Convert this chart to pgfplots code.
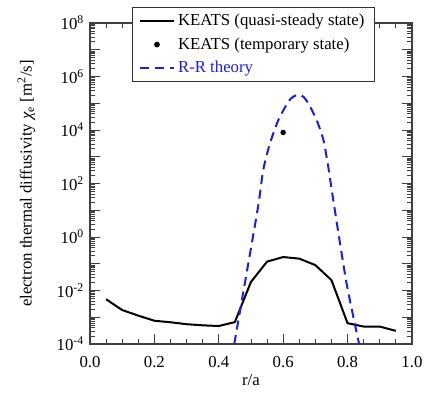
\documentclass[border=0pt]{standalone}
\usepackage{fontspec}
\setmainfont{Liberation Serif}
\usepackage{pgfplots}
\pgfplotsset{compat=1.18}
\definecolor{rrblue}{RGB}{30,30,225}
\pgfplotsset{
  mylegline/.style={legend image code/.code={\draw[##1] (0pt,0pt) -- (20pt,0pt);}},
  mylegdot/.style={legend image code/.code={\draw[##1] plot coordinates {(10pt,0pt)};}},
}
\begin{document}
\begin{tikzpicture}
\begin{axis}[name=ax,
  width=192pt, height=191.5pt, scale only axis,
  xmin=0, xmax=1, ymode=log, ymin=1e-4, ymax=1e8,
  xtick={0,0.2,0.4,0.6,0.8,1.0},
  xticklabels={0.0,0.2,0.4,0.6,0.8,1.0},
  minor xtick={0.05,0.1,0.15,0.25,0.3,0.35,0.45,0.5,0.55,0.65,0.7,0.75,0.85,0.9,0.95},
  ytick={1e-4,1e-3,1e-2,1e-1,1,1e1,1e2,1e3,1e4,1e5,1e6,1e7,1e8},
  yticklabels={{10\textsuperscript{-4}},{},{10\textsuperscript{-2}},{},{10\textsuperscript{0}},{},{10\textsuperscript{2}},{},{10\textsuperscript{4}},{},{10\textsuperscript{6}},{},{10\textsuperscript{8}}},
  minor ytick={
   2e-4,3e-4,4e-4,5e-4,6e-4,7e-4,8e-4,9e-4,
   2e-3,3e-3,4e-3,5e-3,6e-3,7e-3,8e-3,9e-3,
   2e-2,3e-2,4e-2,5e-2,6e-2,7e-2,8e-2,9e-2,
   2e-1,3e-1,4e-1,5e-1,6e-1,7e-1,8e-1,9e-1,
   2,3,4,5,6,7,8,9,
   2e1,3e1,4e1,5e1,6e1,7e1,8e1,9e1,
   2e2,3e2,4e2,5e2,6e2,7e2,8e2,9e2,
   2e3,3e3,4e3,5e3,6e3,7e3,8e3,9e3,
   2e4,3e4,4e4,5e4,6e4,7e4,8e4,9e4,
   2e5,3e5,4e5,5e5,6e5,7e5,8e5,9e5,
   2e6,3e6,4e6,5e6,6e6,7e6,8e6,9e6,
   2e7,3e7,4e7,5e7,6e7,7e7,8e7,9e7},
  tick align=inside,
  major tick length=6pt, minor tick length=3pt,
  axis line style={line width=0.8pt, black!75},
  every tick/.style={black!75, line width=0.5pt},
  xticklabel style={yshift=-4pt},
  xlabel={r/a},
  xlabel style={yshift=3pt},
  ylabel={electron thermal diffusivity {\itshape χ}\textsubscript{e} [m\textsuperscript{2}/s]},
  ylabel style={yshift=6pt},
  legend style={at={(0.885,1.05)}, anchor=north east, draw=black!80, line width=0.6pt,
    fill=white, row sep=1.5pt, inner xsep=4pt, inner ysep=2pt, font=\normalsize},
  legend cell align=left,
  clip=true,
]
\addplot[black, line width=1.2pt, mylegline] coordinates {
(0.05,4.7e-3) (0.10,1.86e-3) (0.15,1.15e-3) (0.20,7.4e-4) (0.25,6.5e-4)
(0.30,5.5e-4) (0.35,5.0e-4) (0.40,4.7e-4) (0.45,6.6e-4) (0.50,2.1e-2)
(0.55,0.12) (0.60,0.178) (0.65,0.155) (0.70,0.089) (0.75,0.0245)
(0.80,6.0e-4) (0.85,4.5e-4) (0.90,4.5e-4) (0.95,3.1e-4)
};
\addlegendentry{KEATS (quasi-steady state)}
\addplot[only marks, mark=*, mark size=1.4pt, black, mylegdot] coordinates {(0.60,8.1e3)};
\addlegendentry{KEATS (temporary state)}
\addplot[rrblue, line width=1.2pt, dash pattern=on 5.4pt off 3.4pt, smooth, tension=0.4, mylegline] coordinates {
(0.448,1e-4) (0.481,0.0186) (0.523,15.8) (0.538,316) (0.559,3.16e3)
(0.585,2.34e4) (0.616,1.15e5) (0.632,1.78e5) (0.647,2.04e5) (0.662,1.78e5) (0.678,1.0e5)
(0.704,2.34e4) (0.725,4.27e3) (0.740,427) (0.758,15.8) (0.797,0.0186) (0.836,1e-4)
};
\addlegendentry{\textcolor{rrblue}{R-R theory}}
\end{axis}
\pgfresetboundingbox
\path ([shift={(-53.7pt,-32.8pt)}]ax.south west) rectangle ([shift={(9pt,13.7pt)}]ax.north east);
\end{tikzpicture}
\end{document}
